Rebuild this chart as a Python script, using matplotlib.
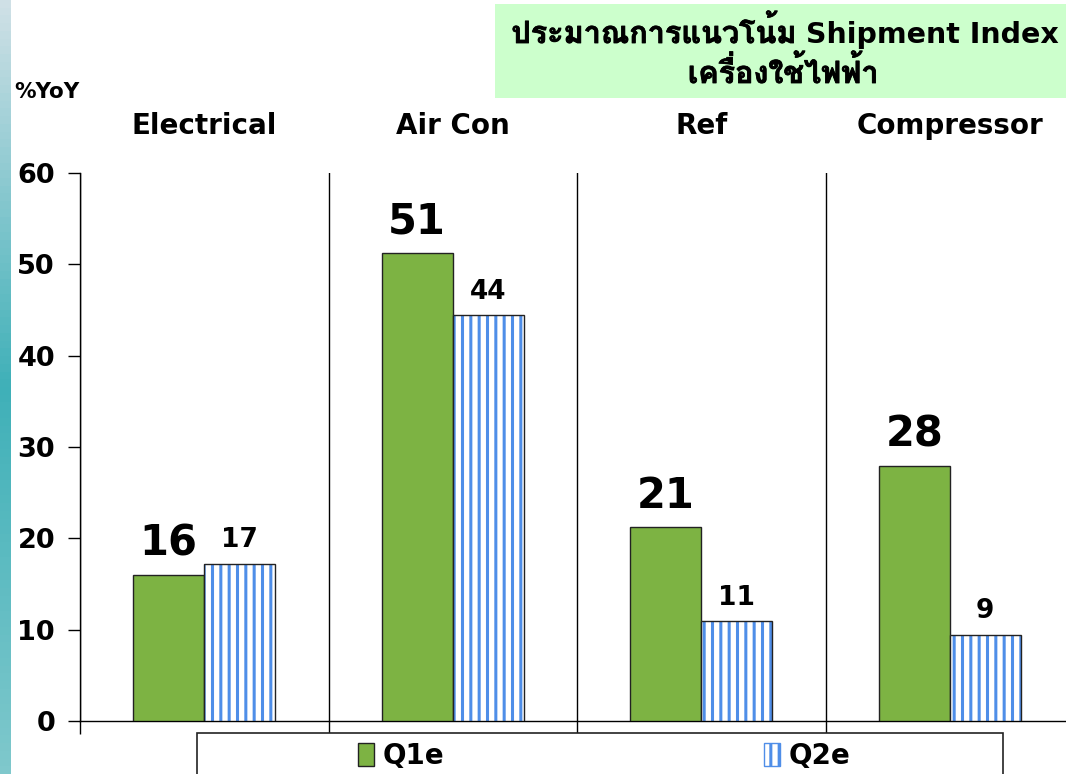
import matplotlib
matplotlib.use("Agg")
import matplotlib.pyplot as plt
import matplotlib.patheffects as pe
import numpy as np
from matplotlib import font_manager as fm
from matplotlib.ft2font import FT2Font
from matplotlib.patches import Rectangle, Patch

plt.rcParams["hatch.linewidth"] = 2.2

# ---- data ----
categories = ["Electrical", "Air Con", "Ref", "Compressor"]
q1e = [16.0, 51.2, 21.2, 27.9]
q2e = [17.2, 44.4, 10.9, 9.4]
q1_labels = ["16", "51", "21", "28"]
q2_labels = ["17", "44", "11", "9"]
series_names = ["Q1e", "Q2e"]
yticks = [0, 10, 20, 30, 40, 50, 60]
title_thai1 = "ประมาณการแนวโน้ม"
title_latin = "Shipment Index"
title_thai2 = "เครื่องใช้ไฟฟ้า"
ylabel_text = "%YoY"

# ---- find a font with Thai glyphs (prefer bold) ----
thai_font = None
thai_bold = False
for f in fm.fontManager.ttflist:
    try:
        cmap = FT2Font(f.fname).get_charmap()
        if 0x0E1B in cmap and 0x0E49 in cmap:
            is_bold = (f.weight in ("bold", 700) or (isinstance(f.weight, int) and f.weight >= 600))
            if thai_font is None or (is_bold and not thai_bold):
                thai_font = f.name
                thai_bold = is_bold
    except Exception:
        pass
title_family = ["DejaVu Sans"] + ([thai_font] if thai_font else [])

GREEN = "#7db343"
BLUE = "#4f8ee8"

fig = plt.figure(figsize=(10.66, 7.74), dpi=100)
fig.patch.set_facecolor("white")

# decorative left stripe
sax = fig.add_axes([0, 0, 10 / 1066, 1])
grad = np.linspace(0, 1, 100).reshape(-1, 1)
sax.imshow(grad, aspect="auto", cmap=matplotlib.colors.LinearSegmentedColormap.from_list(
    "s", ["#cfe0e6", "#3fb0b8", "#7fc8cc"]), extent=[0, 1, 0, 1])
sax.axis("off")

ax = fig.add_axes([80 / 1066, 53 / 774, 994 / 1066, 548 / 774])
x = np.arange(len(categories))
w = 0.286
ax.bar(x - w / 2, q1e, width=w, color=GREEN, edgecolor="#222222", linewidth=1.0, zorder=3)
ax.bar(x + w / 2, q2e, width=w, color="white", edgecolor=BLUE, hatch="||", linewidth=0, zorder=3)
ax.bar(x + w / 2, q2e, width=w, fill=False, edgecolor="#222222", linewidth=1.0, zorder=4)

ax.set_xlim(-0.5, len(categories) - 0.5)
ax.set_ylim(0, 60)
ax.set_yticks(yticks)
ax.set_yticklabels([str(v) for v in yticks], fontsize=19.5, fontweight="bold")
ax.set_xticks(np.arange(len(categories) + 1) - 0.5)
ax.set_xticklabels([])
ax.tick_params(axis="x", length=9, width=1, direction="out")
ax.tick_params(axis="y", length=9, width=1, direction="out", pad=9)
ax.grid(axis="x", color="black", linewidth=1, zorder=1)
for s in ["top", "right"]:
    ax.spines[s].set_visible(False)
ax.spines["left"].set_linewidth(1)
ax.spines["bottom"].set_linewidth(1)

for i in range(len(categories)):
    ax.annotate(q1_labels[i], (x[i] - w / 2, q1e[i]), xytext=(0, 14), textcoords="offset points",
                ha="center", va="baseline", fontsize=30, fontweight="bold")
    ax.annotate(q2_labels[i], (x[i] + w / 2, q2e[i]), xytext=(0, 12), textcoords="offset points",
                ha="center", va="baseline", fontsize=19, fontweight="bold")
    ax.text(x[i], 1.086, categories[i], transform=ax.get_xaxis_transform(),
            ha="center", va="center", fontsize=20, fontweight="bold")

fig.text(14 / 1066, 1 - 92 / 774, ylabel_text, ha="left", va="center", fontsize=15.5, fontweight="bold")

# title box
fig.patches.append(Rectangle((495 / 1066, 1 - 98 / 774), 0.6, 94 / 774, transform=fig.transFigure,
                             facecolor="#ccffcc", edgecolor="none", zorder=0))
bold_fx = [pe.withStroke(linewidth=0.6, foreground="black")]
fig.text(797 / 1066, 1 - 43 / 774, title_thai1, ha="right", va="baseline", fontsize=22,
         fontweight="bold", family=title_family, path_effects=bold_fx)
fig.text(806 / 1066, 1 - 43 / 774, title_latin, ha="left", va="baseline", fontsize=20.5,
         fontweight="bold", family=title_family)
fig.text(783 / 1066, 1 - 83 / 774, title_thai2, ha="center", va="baseline", fontsize=22,
         fontweight="bold", family=title_family, path_effects=bold_fx)

# legend box
fig.patches.append(Rectangle((197 / 1066, -0.01), 806 / 1066, (774 - 733) / 774 + 0.01,
                             transform=fig.transFigure, facecolor="white", edgecolor="#222222",
                             linewidth=1.2, zorder=0))
handles = [Patch(facecolor=GREEN, edgecolor="#222222", label=series_names[0]),
           Patch(facecolor="white", edgecolor=BLUE, hatch="||", label=series_names[1])]
fig.legend(handles=handles, loc="center", bbox_to_anchor=(604 / 1066, 18 / 774), ncol=2,
           frameon=False, prop={"family": ["DejaVu Sans"], "weight": "bold", "size": 20},
           handlelength=0.6, handleheight=0.9, handletextpad=0.3, columnspacing=11.5)

fig.savefig("out.png", dpi=100)
